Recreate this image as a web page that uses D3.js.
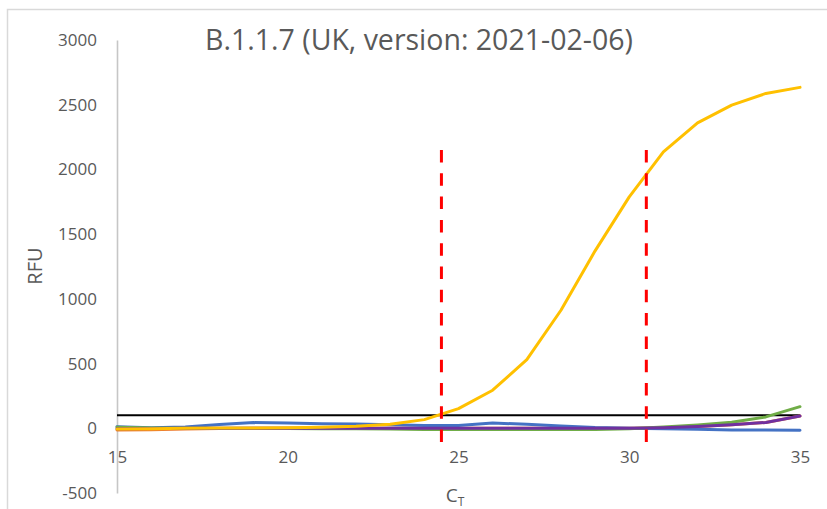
<!DOCTYPE html>
<html>
<head>
<meta charset="utf-8">
<script src="https://cdn.jsdelivr.net/npm/d3@7"></script>
<style>
  html, body { margin: 0; padding: 0; background: #fff; }
  svg { display: block; font-family: "Open Sans", "Liberation Sans", sans-serif; }
</style>
</head>
<body>
<svg id="chart" width="827" height="509"></svg>
<script>
const titleText = "B.1.1.7 (UK, version: 2021-02-06)";
const cycles = [15,16,17,18,19,20,21,22,23,24,25,26,27,28,29,30,31,32,33,34,35];
const orangeValues = [-13,-12,-5,-1,0,0,0,0,0,0,0,0,0,0,0,0,5,14,27,45,95];
const blueValues   = [12,4,10,30,44,40,35,33,28,22,22,40,32,18,6,0,-3,-8,-13,-14,-15];
const greenValues  = [8,3,0,-2,-2,-2,-3,-4,-6,-9,-10,-10,-10,-10,-9,-3,10,26,46,88,167];
const purpleValues = [-3,-2,0,0,0,0,0,0,0,0,0,0,0,0,0,0,5,14,27,45,95];
const yellowValues = [-5,-3,0,2,3,5,8,15,31,67,152,294,531,912,1371,1788,2136,2360,2497,2587,2634];
const thresholdValue = 100;
const cutoffCycles = [24.5, 30.5];
const cutoffRange = [-115, 2150];
const xTicks = [15,20,25,30,35];
const yTicks = [-500,0,500,1000,1500,2000,2500,3000];

const series = [
  {name: "orange", color: "#ED7D31", values: orangeValues},
  {name: "blue",   color: "#4472C4", values: blueValues},
  {name: "green",  color: "#70AD47", values: greenValues},
  {name: "purple", color: "#7030A0", values: purpleValues},
  {name: "yellow", color: "#FFC000", values: yellowValues}
];

const svg = d3.select("#chart");
const x = d3.scaleLinear().domain([15, 35]).range([117, 800]);
const y = d3.scaleLinear().domain([-500, 3000]).range([493, 40]);
const textColor = "#595959";

// chart border
svg.append("rect")
  .attr("x", 7.5).attr("y", 9.5).attr("width", 840).attr("height", 520)
  .attr("fill", "none").attr("stroke", "#d9d9d9").attr("stroke-width", 1.5);

// y axis
const yAxis = svg.append("g")
  .attr("transform", `translate(${x(15)},0)`)
  .call(d3.axisLeft(y).tickValues(yTicks).tickSize(0).tickPadding(20).tickFormat(d => String(d)));
yAxis.select(".domain").attr("stroke", "#c6c6c6").attr("stroke-width", 1.6);
yAxis.selectAll("text").attr("fill", textColor).attr("font-size", 17)
  .attr("font-family", "'Open Sans', sans-serif");

// x axis
const xAxis = svg.append("g")
  .attr("transform", `translate(0,${y(0)})`)
  .call(d3.axisBottom(x).tickValues(xTicks).tickSize(0).tickPadding(23).tickFormat(d => String(d)));
xAxis.select(".domain").remove();
xAxis.selectAll("text").attr("fill", textColor).attr("font-size", 17)
  .attr("font-family", "'Open Sans', sans-serif");

// threshold line
svg.append("line")
  .attr("x1", x(15)).attr("x2", x(35))
  .attr("y1", y(thresholdValue)).attr("y2", y(thresholdValue))
  .attr("stroke", "#000").attr("stroke-width", 2);

// series
const line = d3.line().x((d, i) => x(cycles[i])).y(d => y(d));
svg.append("g").selectAll("path").data(series).join("path")
  .attr("d", d => line(d.values))
  .attr("fill", "none")
  .attr("stroke", d => d.color)
  .attr("stroke-width", 3)
  .attr("stroke-linejoin", "round")
  .attr("stroke-linecap", "round");

// cutoff dashed lines
svg.append("g").selectAll("line").data(cutoffCycles).join("line")
  .attr("x1", d => x(d)).attr("x2", d => x(d))
  .attr("y1", y(cutoffRange[1])).attr("y2", y(cutoffRange[0]))
  .attr("stroke", "#FF0000").attr("stroke-width", 3)
  .attr("stroke-dasharray", "12.5,10.8");

// title
const title = svg.append("text")
  .attr("x", 419).attr("y", 49.5)
  .attr("text-anchor", "middle")
  .attr("fill", textColor)
  .attr("font-size", 22)
  .text(titleText);
const tw = title.node().getComputedTextLength();
title.attr("font-size", 22 * 428 / tw);

// y label
svg.append("text")
  .attr("transform", "translate(42,266) rotate(-90)")
  .attr("text-anchor", "middle")
  .attr("fill", textColor)
  .attr("font-size", 20)
  .text("RFU");

// x label C_T
const xl = svg.append("text")
  .attr("x", 455).attr("y", 502)
  .attr("text-anchor", "middle")
  .attr("fill", textColor)
  .attr("font-size", 19);
xl.append("tspan").text("C");
xl.append("tspan").attr("font-size", 12).attr("dy", 4).text("T");
</script>
</body>
</html>
